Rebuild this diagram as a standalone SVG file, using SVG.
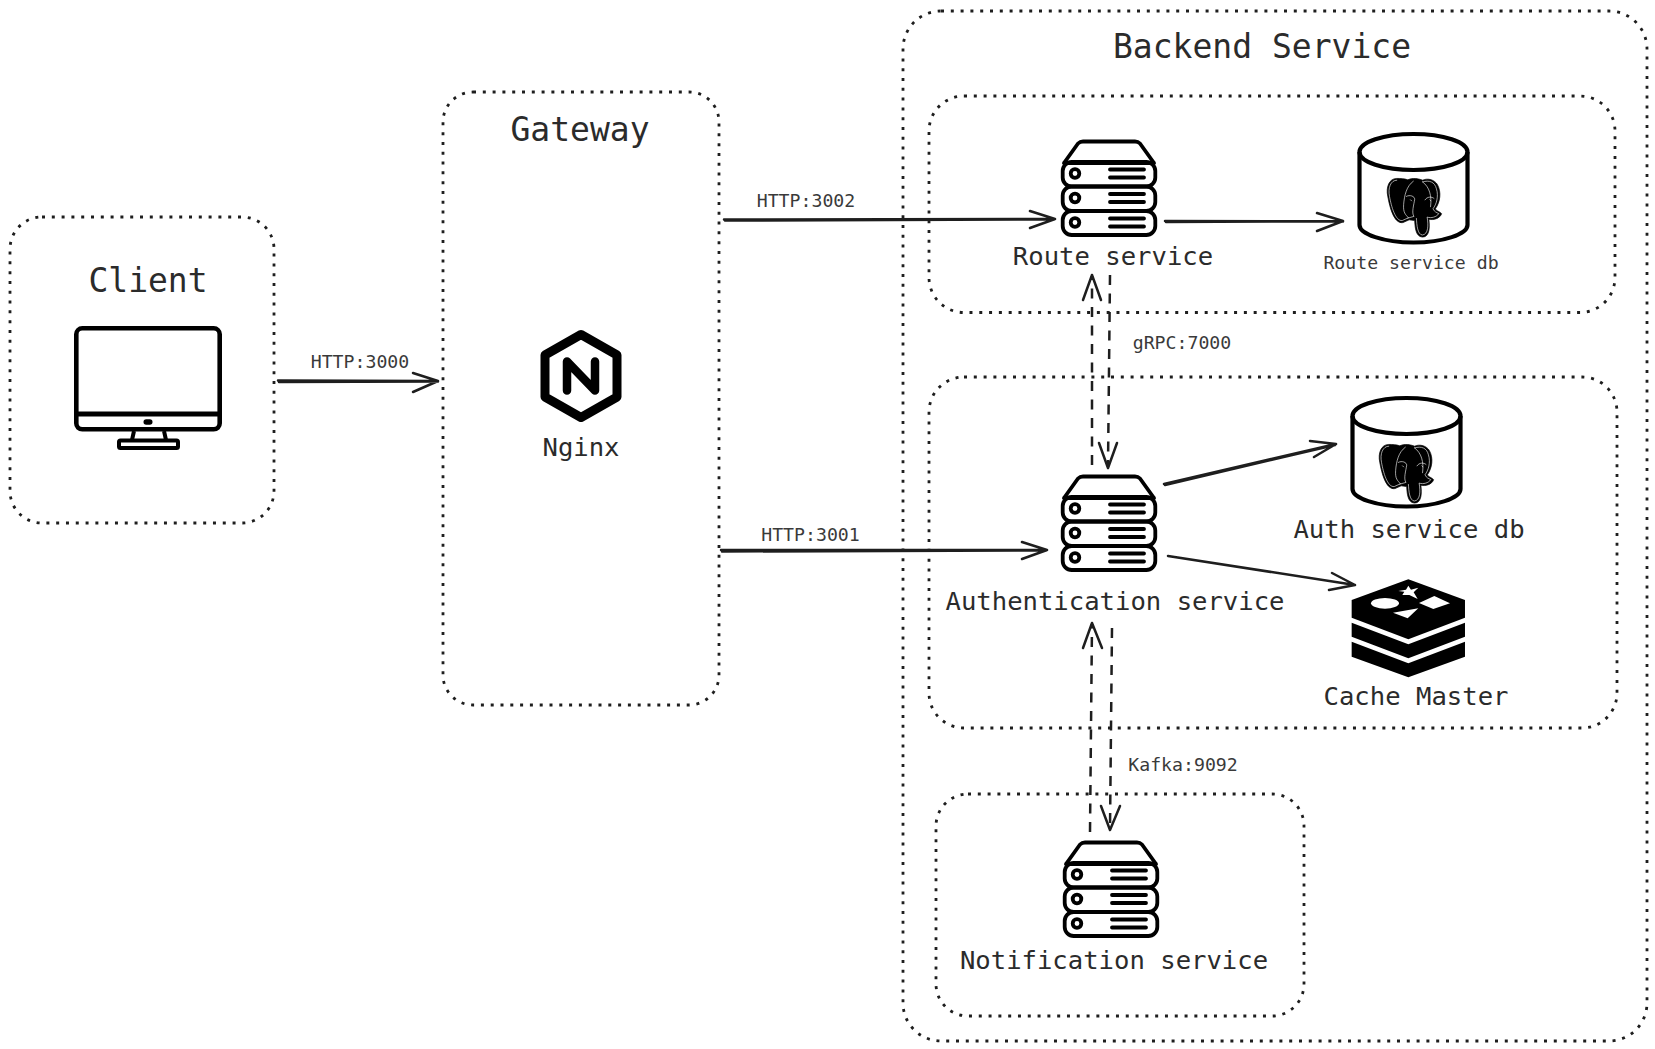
<svg xmlns="http://www.w3.org/2000/svg" xmlns:xlink="http://www.w3.org/1999/xlink" width="1655" height="1049" viewBox="0 0 1655 1049">
<style>
text{font-family:"DejaVu Sans Mono","Liberation Mono",monospace;fill:#2b2b2b;text-anchor:middle}
.t32{font-size:33px}.t25{font-size:25.6px}.t18{font-size:18.200px;fill:#3a3a3a}
.box{fill:none;stroke:#1e1e1e;stroke-width:2.800;stroke-dasharray:3 6.800;stroke-linecap:butt}
.solid{fill:none;stroke:#1e1e1e;stroke-width:2.500;stroke-linecap:round;stroke-linejoin:round}
.dash{fill:none;stroke:#1e1e1e;stroke-width:2.500;stroke-dasharray:10 8.500}
.ic{fill:none;stroke:#000;stroke-width:3.800;stroke-linejoin:round;stroke-linecap:round}
.cy{fill:none;stroke:#000;stroke-width:4.200;stroke-linejoin:round}
</style>
<defs>
<g id="server">
<path class="ic" d="M3,23 L17,3.500 Q19,1.500 22,1.500 H74 Q77,1.500 79,3.500 L93,23 M3,23 H93"/>
<rect class="ic" x="1.700" y="22" width="92.600" height="24.500" rx="9"/>
<rect class="ic" x="1.700" y="46.500" width="92.600" height="24.500" rx="9"/>
<rect class="ic" x="1.700" y="71" width="92.600" height="24" rx="9"/>
<circle class="ic" cx="14" cy="33.500" r="4.300"/><circle class="ic" cx="14" cy="58" r="4.300"/><circle class="ic" cx="14" cy="82.500" r="4.300"/>
<path class="ic" d="M49,29.500 H83 M49,37.500 H83 M49,54 H83 M49,62 H83 M49,78.500 H83 M49,86.500 H83"/>
</g>
<g id="elephant">
<path fill="#000" stroke="#000" stroke-width="2" d="M50,10 C28,10 18,35 24,62 C30,95 42,142 68,138 L86,130 L102,132 C103,150 104,178 124,180 C146,180 146,150 143,128 C155,132 176,126 180,112 C172,104 164,104 162,98 C176,78 180,50 168,28 C160,14 140,8 125,15 C112,10 95,8 82,14 C72,10 60,10 50,10 Z"/>
<path fill="none" stroke="#fff" stroke-width="1.800" stroke-linecap="round" d="M50,15 C32,15 24,38 29,62 C34,90 46,135 66,132 L84,124 C76,115 68,110 70,85 C72,60 78,32 98,18 M125,20 C145,14 160,20 165,40 C172,62 165,85 155,98 C160,108 165,108 172,112 C165,122 150,126 138,122 C142,145 142,172 124,174 C110,172 108,145 107,126 M125,20 C145,35 152,60 148,92 M78,62 C88,56 102,62 102,70 C100,85 92,110 100,120 L82,125 M132,72 C138,62 152,62 158,68 M90,72 l3,3 M146,72 l3,3"/>
</g>
<g id="cyl">
<ellipse class="cy" cx="56" cy="20" rx="54" ry="18"/>
<path class="cy" d="M2,20 V93 C2,102 26,110.500 56,110.500 C86,110.500 110,102 110,93 V20"/>
</g>
</defs>
<rect width="1655" height="1049" fill="#fff"/>

<g id="connectors">
<path class="solid" d="M278,380.500 L438,381 M279,382 L438,381.500 M438,381 L413,373 M438,381 L413,392"/>
<path class="solid" d="M724,219.500 L1055,219 M725,220.500 L1054,219.500 M1055,219 L1030,211 M1055,219 L1030,228"/>
<path class="solid" d="M1165,221 L1343,221.500 M1166,222 L1342,221 M1343,221 L1317,213 M1343,221 L1317,231"/>
<path class="solid" d="M721,550 L1047,550 M722,551.500 L1046,550.500 M1047,550 L1022,542 M1047,550 L1022,559"/>
<path class="solid" d="M1164,484 L1336,444 M1165,485 L1335,445 M1336,444 L1310,441 M1336,444 L1314,457"/>
<path class="solid" d="M1168,556 L1355,585 M1355,585 L1332,573 M1355,585 L1329,590"/>
<path class="dash" d="M1092,465 L1092,276"/>
<path class="solid" d="M1092,275 L1083,300 M1092,275 L1101,300"/>
<path class="dash" d="M1110,275 L1108,466"/>
<path class="solid" d="M1108,468 L1099,443 M1108,468 L1117,443"/>
<path class="dash" d="M1090,832 L1092,624"/>
<path class="solid" d="M1092,623 L1083,648 M1092,623 L1102,648"/>
<path class="dash" d="M1112,628 L1110,829"/>
<path class="solid" d="M1110,830 L1101,806 M1110,830 L1120,806"/>
<text class="t18" x="360" y="368">HTTP:3000</text>
<text class="t18" x="806" y="207">HTTP:3002</text>
<text class="t18" x="810.500" y="541">HTTP:3001</text>
<text class="t18" x="1182" y="349">gRPC:7000</text>
<text class="t18" x="1183" y="771">Kafka:9092</text>
</g>

<g id="client">
<rect class="box" x="10" y="217" width="264" height="306" rx="32"/>
<text class="t32" x="148" y="292">Client</text>
<rect x="76.300" y="328.300" width="143.400" height="101" rx="6" fill="none" stroke="#000" stroke-width="4.600"/>
<path d="M76,414 H220" stroke="#000" stroke-width="5" fill="none"/>
<rect x="143.500" y="419.300" width="9" height="5.400" rx="2.700" fill="#000"/>
<path d="M134,431 L132,440 M164,431 L166,440" stroke="#000" stroke-width="4" fill="none"/>
<rect x="119" y="440.500" width="59" height="7.500" rx="1.500" fill="none" stroke="#000" stroke-width="4"/>
</g>

<g id="gateway">
<rect class="box" x="443" y="92" width="276" height="613" rx="30"/>
<text class="t32" x="580" y="141">Gateway</text>
<path d="M581,334.500 L617,355 V397 L581,417.500 L545,397 V355 Z" fill="none" stroke="#000" stroke-width="9" stroke-linejoin="round"/>
<path d="M567,390.500 V361.500 L595,390.500 V361.500" fill="none" stroke="#000" stroke-width="8.500" stroke-linejoin="round" stroke-linecap="round"/>
<text class="t25" x="581" y="456">Nginx</text>
</g>

<g id="backend-service">
<rect class="box" x="903" y="11" width="744" height="1030" rx="38"/>
<text class="t32" x="1262" y="58">Backend Service</text>
</g>

<g id="route-group">
<rect class="box" x="929" y="96" width="686" height="216.500" rx="35"/>
<use xlink:href="#server" href="#server" x="1061" y="140"/>
<text class="t25" x="1113" y="265">Route service</text>
</g>
<g id="route-db">
<use xlink:href="#cyl" href="#cyl" x="1357.500" y="132"/>
<use xlink:href="#elephant" href="#elephant" transform="translate(1379.500,175) scale(.345)"/>
<text class="t18" x="1411" y="269">Route service db</text>
</g>

<g id="auth-group">
<rect class="box" x="929" y="377" width="688" height="351" rx="35"/>
<use xlink:href="#server" href="#server" x="1061" y="475"/>
<text class="t25" x="1115" y="610">Authentication service</text>
</g>
<g id="auth-db">
<use xlink:href="#cyl" href="#cyl" x="1350.500" y="396"/>
<use xlink:href="#elephant" href="#elephant" transform="translate(1371.500,441) scale(.345)"/>
<text class="t25" x="1409" y="538">Auth service db</text>
</g>
<g id="cache-master">
<g transform="translate(1345,575) scale(.3333)" fill="#000">
<path d="M190,13 L360,75 V128 L190,193 L20,128 V75 Z"/>
<path d="M20,143 L190,208 L360,143 V185 L190,250 L20,185 Z"/>
<path d="M20,200 L190,265 L360,200 V245 L190,307 L20,245 Z"/>
<path fill="#fff" d="M190,32 L198,44 L220,38 L206,52 L218,72 L193,60 L172,60 L178,50 L160,48 L183,44 Z"/>
<ellipse fill="#fff" cx="120" cy="85" rx="42" ry="16"/>
<path fill="#fff" d="M268,63 L315,85 L265,102 L222,84 Z"/>
<path fill="#fff" d="M220,100 L188,130 L144,113 Z"/>
</g>
<text class="t25" x="1416" y="705">Cache Master</text>
</g>

<g id="notification-group">
<rect class="box" x="936" y="794" width="368" height="222" rx="32"/>
<use xlink:href="#server" href="#server" x="1063" y="841"/>
<text class="t25" x="1114" y="968.500">Notification service</text>
</g>
</svg>
